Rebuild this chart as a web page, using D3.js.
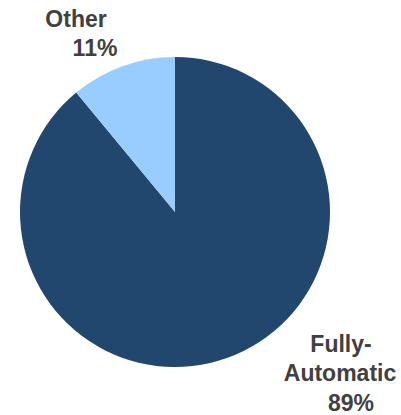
<!DOCTYPE html>
<html><head><meta charset="utf-8">
<script src="https://cdn.jsdelivr.net/npm/d3@7"></script>
<style>body{margin:0;background:#fff}svg{display:block}</style>
</head><body>
<svg id="c" width="401" height="415"></svg>
<script>
const categories = ["Fully-Automatic", "Other"];
const values = [89, 11];
const colors = ["#21476E", "#99CCFF"];
const labelLines = [["Fully-", "Automatic", "89%"], ["Other", "11%"]];

const svg = d3.select("#c");
const cx = 175, cy = 212, r = 155;
const pie = d3.pie().sort(null).value(d => d)
  .startAngle(0).endAngle(2 * Math.PI);
// Other slice counter-clockwise from top: order so Other ends at 2π
const arcs = pie(values);
const arc = d3.arc().innerRadius(0).outerRadius(r);
const g = svg.append("g").attr("transform", `translate(${cx},${cy})`);
g.selectAll("path").data(arcs).join("path")
  .attr("d", arc).attr("fill", (d, i) => colors[i]);

const font = "Liberation Sans, Arial, sans-serif";
const pos = [
  [[341, 352], [340, 381], [351, 411]],
  [[76, 27], [95, 56]]
];
labelLines.forEach((lines, i) => {
  lines.forEach((t, j) => {
    svg.append("text").attr("x", pos[i][j][0]).attr("y", pos[i][j][1])
      .attr("text-anchor", "middle").attr("font-family", font)
      .attr("font-weight", "bold").attr("font-size", 23)
      .attr("fill", "#404040").text(t);
  });
});
</script>
</body></html>
